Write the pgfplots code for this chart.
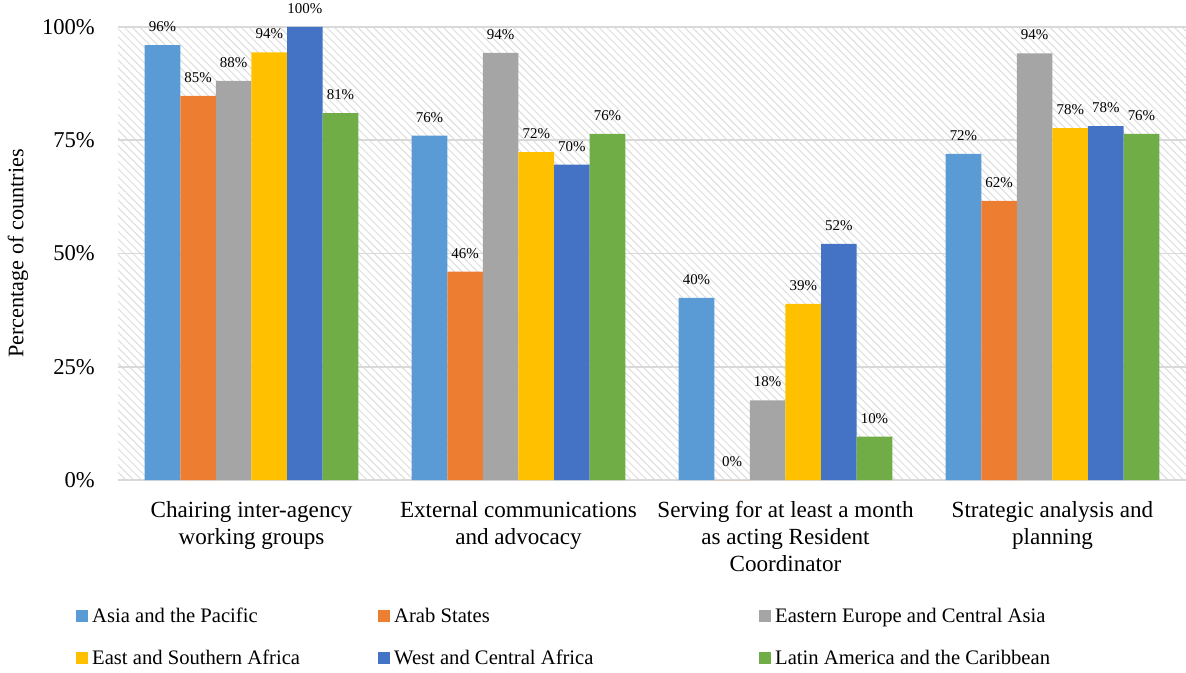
\documentclass[border=0pt]{standalone}
\usepackage{fontspec}
\setmainfont{Liberation Serif}
\usepackage{pgfplots}
\pgfplotsset{compat=1.18}
\usetikzlibrary{patterns.meta}
\definecolor{cA}{HTML}{5B9BD5}
\definecolor{cB}{HTML}{ED7D31}
\definecolor{cC}{HTML}{A5A5A5}
\definecolor{cD}{HTML}{FFC000}
\definecolor{cE}{HTML}{4472C4}
\definecolor{cF}{HTML}{70AD47}
\definecolor{gridc}{HTML}{D9D9D9}
\definecolor{hatchc}{HTML}{DDDDDD}
\begin{document}
\begin{tikzpicture}
\begin{axis}[
  scale only axis,
  width=1068bp, height=453bp,
  xmin=-0.5, xmax=3.5, ymin=0, ymax=100,
  clip=false,
  ybar=0pt, bar width=35.6bp,
  axis line style={draw=none},
  tick style={draw=none},
  ymajorgrids, grid style={gridc, line width=1.6bp},
  axis background/.style={pattern={Lines[angle=-45,distance=5.5bp,line width=1bp]}, pattern color=hatchc},
  ytick={0,25,50,75,100},
  yticklabels={0\%,25\%,50\%,75\%,100\%},
  yticklabel style={font=\fontsize{22.7}{26}\selectfont, inner sep=0pt, anchor=east, xshift=-23bp},
  xtick={0,1,2,3},
  xticklabels={{Chairing inter-agency\\working groups},{External communications\\and advocacy},{Serving for at least a month\\as acting Resident\\Coordinator},{Strategic analysis and\\planning}},
  xticklabel style={font=\fontsize{23.2}{27}\selectfont, align=center, inner sep=0pt, anchor=north, yshift=-17bp},
  ylabel={Percentage of countries},
  ylabel style={font=\fontsize{22.3}{25}\selectfont, at={(axis description cs:-0.0936,0.5)}, anchor=center, rotate=0},
  /pgf/number format/assume math mode=true,
  nodes near coords={\pgfmathprintnumber[fixed,precision=0]{\pgfplotspointmeta}\%},
  every node near coord/.append style={font=\fontsize{15}{18}\selectfont, inner sep=0pt, anchor=south, yshift=13bp, black},
  legend columns=3,
  legend cell align=left,
  legend style={draw=none, fill=none, at={(rel axis cs:0,0)}, anchor=north west, xshift=-42bp, yshift=-128bp,
    font=\fontsize{20.7}{25}\selectfont, inner sep=0pt, nodes={inner sep=0pt},
    row sep=26bp,
    /tikz/every odd column/.append style={column sep=4bp}},
  legend image code/.code={\fill[#1] (0bp,-6bp) rectangle (12bp,6bp);},
]
\addplot[fill=cA, draw=none] coordinates {(0,96) (1,76) (2,40.2) (3,72)};
\addlegendentry{\makebox[286bp][l]{Asia and the Pacific}}
\addplot[fill=cB, draw=none] coordinates {(0,84.8) (1,46) (2,0) (3,61.6)};
\addlegendentry{\makebox[365bp][l]{Arab States}}
\addplot[fill=cC, draw=none] coordinates {(0,88.1) (1,94.3) (2,17.6) (3,94.2)};
\addlegendentry{Eastern Europe and Central Asia}
\addplot[fill=cD, draw=none] coordinates {(0,94.4) (1,72.4) (2,38.9) (3,77.7)};
\addlegendentry{\makebox[286bp][l]{East and Southern Africa}}
\addplot[fill=cE, draw=none] coordinates {(0,100) (1,69.6) (2,52.1) (3,78.1)};
\addlegendentry{\makebox[365bp][l]{West and Central Africa}}
\addplot[fill=cF, draw=none] coordinates {(0,81) (1,76.4) (2,9.6) (3,76.4)};
\addlegendentry{Latin America and the Caribbean}
\end{axis}
\pgfresetboundingbox
\path[use as bounding box] (-118bp,-193bp) rectangle (1068bp,480bp);
\end{tikzpicture}
\end{document}
